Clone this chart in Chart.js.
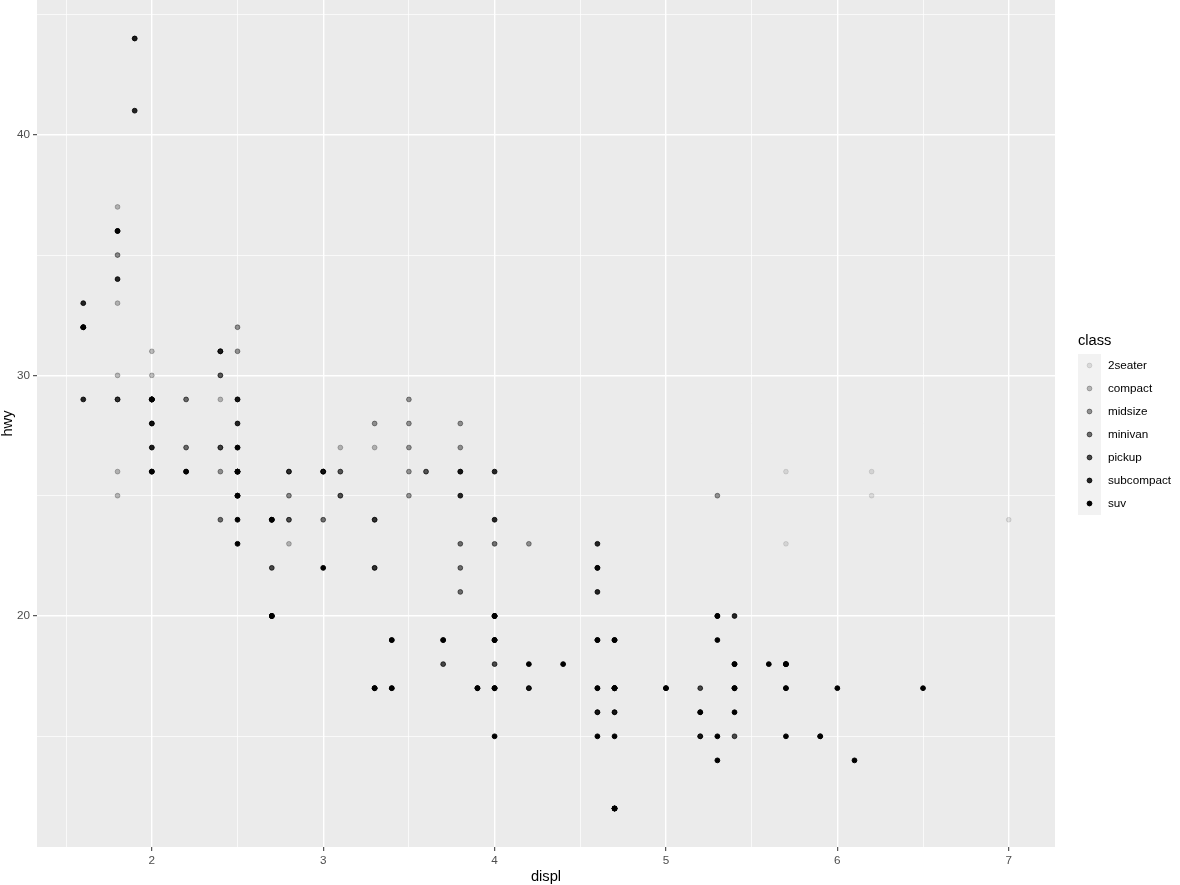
<!DOCTYPE html>
<html>
<head>
<meta charset="utf-8">
<script src="https://cdn.jsdelivr.net/npm/chart.js@4.4.1/dist/chart.umd.min.js"></script>
<style>
  body { margin: 0; background: #ffffff; }
  #wrap { width: 1180px; height: 885px; }
</style>
</head>
<body>
<div id="wrap"><canvas id="mpg-chart" width="1180" height="885"></canvas></div>
<script>
// mpg: displ vs hwy, one pair of arrays per class
var classes = ['2seater', 'compact', 'midsize', 'minivan', 'pickup', 'subcompact', 'suv'];
var classAlpha = [0.1, 0.25, 0.4, 0.55, 0.7, 0.85, 1.0];

var twoseaterDispl = [5.7, 5.7, 6.2, 6.2, 7.0];
var twoseaterHwy   = [26, 23, 26, 25, 24];

var compactDispl = [1.8, 1.8, 2.0, 2.0, 2.8, 2.8, 3.1,
  1.8, 1.8, 2.0, 2.0, 2.8, 2.8, 3.1, 3.1,
  2.4, 2.4,
  2.5, 2.5, 2.5, 2.5,
  2.2, 2.2, 2.4, 2.4, 3.0, 3.0, 3.3,
  1.8, 1.8, 1.8, 1.8, 1.8,
  2.0, 2.0, 2.0, 2.0, 2.8,
  1.9, 2.0, 2.0, 2.0, 2.0, 2.5, 2.5, 2.8, 2.8];
var compactHwy = [29, 29, 31, 30, 26, 26, 27,
  26, 25, 28, 27, 25, 25, 25, 25,
  29, 27,
  25, 27, 25, 27,
  27, 29, 31, 31, 26, 26, 27,
  30, 33, 35, 37, 35,
  29, 26, 29, 29, 24,
  44, 29, 26, 29, 29, 29, 29, 23, 24];

var midsizeDispl = [2.8, 3.1, 4.2,
  2.4, 2.4, 3.1, 3.5, 3.6,
  2.4, 2.4, 2.4, 2.4, 2.5, 2.5, 3.3,
  2.5, 2.5, 3.5, 3.5,
  3.0, 3.0, 3.5,
  3.1, 3.8, 3.8, 3.8, 5.3,
  2.2, 2.2, 2.4, 2.4, 3.0, 3.0, 3.5,
  1.8, 1.8, 2.0, 2.0, 2.8, 2.8, 3.6];
var midsizeHwy = [24, 25, 23,
  27, 30, 26, 29, 26,
  26, 27, 30, 31, 26, 26, 28,
  31, 32, 27, 26,
  26, 26, 25,
  26, 26, 27, 28, 25,
  29, 27, 31, 31, 26, 26, 28,
  29, 29, 28, 29, 26, 26, 26];

var minivanDispl = [2.4, 3.0, 3.3, 3.3, 3.3, 3.3, 3.3, 3.8, 3.8, 3.8, 4.0];
var minivanHwy   = [24, 24, 22, 22, 24, 24, 17, 22, 21, 23, 23];

var pickupDispl = [3.7, 3.7, 3.9, 3.9, 4.7, 4.7, 4.7, 5.2, 5.2,
  4.7, 4.7, 4.7, 4.7, 4.7, 4.7, 5.2, 5.2, 5.7, 5.9,
  4.2, 4.2, 4.6, 4.6, 4.6, 5.4, 5.4,
  2.7, 2.7, 2.7, 3.4, 3.4, 4.0, 4.0];
var pickupHwy = [19, 18, 17, 17, 19, 19, 12, 17, 15,
  17, 12, 17, 16, 12, 16, 15, 16, 17, 15,
  17, 17, 16, 16, 17, 15, 17,
  20, 20, 22, 17, 19, 18, 20];

var subcompactDispl = [3.8, 3.8, 4.0, 4.0, 4.6, 4.6, 4.6, 4.6, 5.4,
  1.6, 1.6, 1.6, 1.6, 1.6, 1.8, 1.8, 1.8, 2.0,
  2.0, 2.0, 2.0, 2.0, 2.7, 2.7, 2.7,
  2.2, 2.2, 2.5, 2.5,
  1.9, 1.9, 2.0, 2.0, 2.5, 2.5];
var subcompactHwy = [26, 25, 26, 24, 21, 22, 23, 22, 20,
  33, 32, 32, 29, 32, 34, 36, 36, 29,
  26, 29, 28, 27, 24, 24, 24,
  26, 26, 26, 26,
  44, 41, 29, 26, 28, 29];

var suvDispl = [5.3, 5.3, 5.3, 5.7, 6.0,
  5.3, 5.3, 5.7, 6.5,
  3.9, 4.7, 4.7, 4.7, 5.2, 5.7, 5.9,
  4.6, 5.4, 5.4,
  4.0, 4.0, 4.0, 4.0, 4.6, 5.0,
  3.0, 3.7, 4.0, 4.7, 4.7, 4.7, 5.7, 6.1,
  4.0, 4.2, 4.4, 4.6,
  5.4, 5.4, 5.4,
  4.0, 4.0, 4.6, 5.0,
  3.3, 3.3, 4.0, 5.6,
  2.5, 2.5, 2.5, 2.5, 2.5, 2.5,
  2.7, 2.7, 3.4, 3.4, 4.0, 4.7,
  4.7, 5.7];
var suvHwy = [20, 15, 20, 17, 17,
  19, 14, 15, 17,
  17, 17, 12, 17, 16, 18, 15,
  17, 17, 18,
  17, 19, 17, 19, 19, 17,
  22, 19, 20, 17, 12, 19, 18, 14,
  15, 18, 18, 15,
  17, 16, 18,
  17, 19, 19, 17,
  17, 17, 20, 18,
  25, 24, 27, 25, 26, 23,
  20, 20, 19, 17, 20, 17,
  15, 18];

var displByClass = [twoseaterDispl, compactDispl, midsizeDispl, minivanDispl, pickupDispl, subcompactDispl, suvDispl];
var hwyByClass = [twoseaterHwy, compactHwy, midsizeHwy, minivanHwy, pickupHwy, subcompactHwy, suvHwy];

var xTicks = [1.5, 2, 2.5, 3, 3.5, 4, 4.5, 5, 5.5, 6, 6.5, 7];
var xLabeled = [2, 3, 4, 5, 6, 7];
var yTicks = [15, 20, 25, 30, 35, 40, 45];
var yLabeled = [20, 30, 40];

var FONT = "'Liberation Sans', Arial, sans-serif";
var POINT_R = 2.4;

function pts(xs, ys) {
    return xs.map(function (x, i) { return { x: x, y: ys[i] }; });
}
function black(a) { return 'rgba(0,0,0,' + a + ')'; }

var datasets = classes.map(function (c, i) {
    return {
        label: c,
        data: pts(displByClass[i], hwyByClass[i]),
        backgroundColor: black(classAlpha[i]),
        borderColor: black(classAlpha[i]),
        borderWidth: 1,
        pointRadius: POINT_R,
        pointHoverRadius: POINT_R
    };
});

var panelBg = {
    id: 'panelBg',
    beforeDraw: function (chart) {
        var a = chart.chartArea, ctx = chart.ctx;
        ctx.save();
        ctx.fillStyle = '#ebebeb';
        ctx.fillRect(a.left, a.top, a.right - a.left, a.bottom - a.top);
        ctx.restore();
    }
};

// ggplot style legend on the right
var sideLegend = {
    id: 'sideLegend',
    afterDraw: function (chart) {
        var ctx = chart.ctx;
        var left = 1078, top = 354, key = 23;
        ctx.save();
        ctx.fillStyle = '#000000';
        ctx.font = '14.7px ' + FONT;
        ctx.textBaseline = 'middle';
        ctx.textAlign = 'left';
        ctx.fillText('class', left, 341);
        ctx.fillStyle = '#f2f2f2';
        ctx.fillRect(left, top, key, key * classes.length);
        ctx.font = '11.7px ' + FONT;
        classes.forEach(function (c, i) {
            var cy = top + key * i + key / 2;
            ctx.beginPath();
            ctx.arc(left + key / 2, cy, POINT_R, 0, Math.PI * 2);
            ctx.fillStyle = black(classAlpha[i]);
            ctx.fill();
            ctx.lineWidth = 1;
            ctx.strokeStyle = black(classAlpha[i]);
            ctx.stroke();
            ctx.fillStyle = '#000000';
            ctx.fillText(c, 1108, cy + 0.5);
        });
        ctx.restore();
    }
};

function gridOpts(labeled) {
    function major(ctx) { return ctx.tick && labeled.indexOf(ctx.tick.value) >= 0; }
    return {
        color: '#ffffff',
        lineWidth: function (ctx) { return major(ctx) ? 1.4 : 0.7; },
        drawTicks: true,
        tickLength: 4,
        tickWidth: 1,
        tickColor: function (ctx) { return major(ctx) ? '#333333' : 'rgba(0,0,0,0)'; }
    };
}

var ctx = document.getElementById('mpg-chart').getContext('2d');
var chart = new Chart(ctx, {
    type: 'scatter',
    data: { datasets: datasets },
    plugins: [panelBg, sideLegend],
    options: {
        responsive: false,
        animation: false,
        devicePixelRatio: 1,
        layout: { autoPadding: false, padding: { top: 0, right: 125, bottom: 0, left: 0 } },
        plugins: {
            legend: { display: false },
            tooltip: { enabled: false }
        },
        scales: {
            x: {
                type: 'linear',
                min: 1.33,
                max: 7.27,
                afterBuildTicks: function (scale) {
                    scale.ticks = xTicks.map(function (v) { return { value: v }; });
                },
                afterFit: function (scale) {
                    scale.height = 38;
                    scale.paddingLeft = 0;
                    scale.paddingRight = 0;
                },
                grid: gridOpts(xLabeled),
                border: { display: false },
                ticks: {
                    autoSkip: false,
                    maxRotation: 0,
                    padding: 3,
                    color: '#4d4d4d',
                    font: { family: FONT, size: 11.7 },
                    callback: function (v) { return xLabeled.indexOf(v) >= 0 ? String(v) : ''; }
                },
                title: {
                    display: true,
                    text: 'displ',
                    color: '#000000',
                    font: { family: FONT, size: 14.7, lineHeight: 1.1 },
                    padding: { top: 0, bottom: 0 }
                }
            },
            y: {
                type: 'linear',
                min: 10.4,
                max: 45.6,
                afterBuildTicks: function (scale) {
                    scale.ticks = yTicks.map(function (v) { return { value: v }; });
                },
                afterFit: function (scale) {
                    scale.width = 37;
                    scale.paddingTop = 0;
                    scale.paddingBottom = 0;
                },
                grid: gridOpts(yLabeled),
                border: { display: false },
                ticks: {
                    autoSkip: false,
                    padding: 3,
                    color: '#4d4d4d',
                    font: { family: FONT, size: 11.7 },
                    callback: function (v) { return yLabeled.indexOf(v) >= 0 ? String(v) : ''; }
                },
                title: {
                    display: true,
                    text: 'hwy',
                    color: '#000000',
                    font: { family: FONT, size: 14.7, lineHeight: 1.1 },
                    padding: { top: 0, bottom: 0 }
                }
            }
        }
    }
});
</script>
</body>
</html>
